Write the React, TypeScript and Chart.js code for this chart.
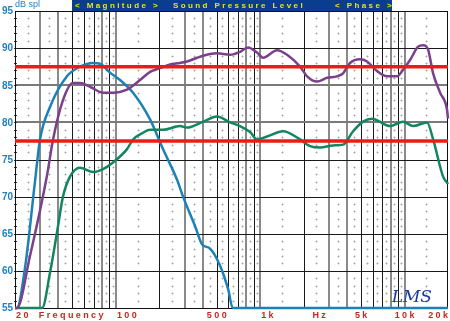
import React, { useEffect, useRef } from 'react';
import { Chart, registerables } from 'chart.js';

Chart.register(...registerables);

// ---- data (frequency in Hz, level in dB SPL) ----
const BLUE_FREQ = [20, 20.6, 23.5, 27.5, 29.8, 35, 45.8, 56.4, 69.4, 77.6, 91, 106.8, 131.5, 172.5, 212, 265, 292, 354, 395, 449, 527, 600, 645, 20000];
const BLUE_DB = [55, 55, 60.5, 72, 77.7, 82.1, 86.2, 87.5, 88.0, 87.9, 86.7, 85.7, 84, 80.4, 76.4, 72.3, 70, 66, 63.6, 63, 60.7, 57.5, 55, 55];

const PURPLE_FREQ = [20, 20.6, 25.4, 33.3, 36.7, 43, 50.5, 56.4, 66.2, 81.4, 95.5, 119.4, 147, 172.5, 202, 237, 278, 311, 365, 449, 502, 618, 725, 824, 951, 1047, 1308, 1535, 1889, 2113, 2477, 2905, 3406, 3750, 4190, 4920, 5500, 6454, 7570, 8880, 9770, 10920, 12410, 13440, 14560, 15770, 17620, 19700, 20000];
const PURPLE_DB = [55, 55, 62, 72.8, 77.7, 83, 85.3, 85.3, 84.8, 84, 84, 84.4, 85.7, 86.8, 87.3, 87.8, 88.0, 88.2, 88.7, 89.2, 89.3, 89.1, 89.5, 90.1, 89.4, 88.7, 89.7, 89.1, 87.5, 86.2, 85.5, 86, 86.2, 86.6, 88, 88.5, 88.2, 86.9, 86.2, 86.2, 87.1, 88.4, 90.2, 90.4, 89.8, 86.6, 84, 81.7, 80.5];

const GREEN_FREQ = [20, 30.8, 35, 39.1, 43, 48.1, 56.4, 69.4, 81.4, 95.5, 119.4, 131.5, 154, 172.5, 212, 278, 311, 402, 502, 618, 725, 851, 951, 1115, 1440, 1889, 2213, 2599, 3198, 3750, 4400, 5160, 5957, 7940, 9770, 11460, 14330, 15780, 18500, 20000];
const GREEN_DB = [55, 55, 59.8, 65.2, 70, 72.7, 73.9, 73.3, 73.7, 74.6, 76.4, 77.7, 78.6, 79, 79, 79.5, 79.3, 80.1, 80.8, 80, 79.5, 78.7, 77.7, 78.1, 78.8, 77.7, 76.8, 76.6, 76.9, 77, 78.8, 80.1, 80.5, 79.5, 80.1, 79.5, 80, 77.7, 72.7, 71.7];

const REF_LEVELS = [87.5, 77.5];

const Y_TICKS = [95, 90, 85, 80, 75, 70, 65, 60, 55];
const X_LABELS = ['20', 'Frequency', '100', '500', '1k', 'Hz', '5k', '10k', '20k'];
const X_LABEL_FREQ = [20, 49, 100, 500, 1000, 2560, 5000, 10000, 20000];
const X_LABEL_ALIGN = ['left', 'center', 'left', 'center', 'left', 'center', 'center', 'center', 'right'];
const HEADER_TEXT = ['< Magnitude >', 'Sound Pressure Level', '< Phase >'];
const HEADER_X = [75, 173, 335];

const FONT = '"Liberation Sans", Arial, sans-serif';

function spacedText(ctx: CanvasRenderingContext2D, text: string, x: number, y: number, spacing: number, align: string) {
  const chars = Array.from(text);
  const widths = chars.map((c) => ctx.measureText(c).width);
  const total = widths.reduce((a, b) => a + b, 0) + spacing * (chars.length - 1);
  let cx = x;
  if (align === 'center') cx = x - total / 2;
  else if (align === 'right') cx = x - total;
  ctx.textAlign = 'left';
  chars.forEach((c, i) => {
    ctx.fillText(c, cx, y);
    cx += widths[i] + spacing;
  });
}

const gridPlugin = {
  id: 'lmsGrid',
  beforeDatasetsDraw(chart: any) {
    const { ctx, chartArea: a, scales } = chart;
    const xs = scales.x;
    const ys = scales.y;
    ctx.save();
    // vertical lines
    const vx: number[] = [];
    const styleFor = (m: number) => {
      if (m === 1 || m === 3 || m === 4 || m === 8) return { c: '#8a8a8a', w: 2 };
      return { c: '#1a1a1a', w: 1 };
    };
    for (let d = 10; d <= 10000; d *= 10) {
      for (let m = 1; m <= 9; m++) {
        const f = d * m;
        if (f < 20 || f > 20000) continue;
        const px = xs.getPixelForValue(f);
        vx.push(px);
        if (f === 20 || f === 20000) continue;
        const s = styleFor(m);
        ctx.strokeStyle = s.c;
        ctx.lineWidth = s.w;
        ctx.beginPath();
        ctx.moveTo(Math.round(px) + (s.w === 1 ? 0.5 : 0), a.top);
        ctx.lineTo(Math.round(px) + (s.w === 1 ? 0.5 : 0), a.bottom);
        ctx.stroke();
      }
    }
    vx.push(xs.getPixelForValue(20000));
    vx.sort((p, q) => p - q);
    // horizontal lines
    for (let v = 60; v <= 90; v += 5) {
      const py = Math.round(ys.getPixelForValue(v));
      const gray = v === 80 || v === 85;
      ctx.strokeStyle = gray ? '#7a7a7a' : '#1a1a1a';
      ctx.lineWidth = gray ? 2 : 1;
      ctx.beginPath();
      ctx.moveTo(a.left, py + (gray ? 0 : 0.5));
      ctx.lineTo(a.right, py + (gray ? 0 : 0.5));
      ctx.stroke();
    }
    // minor "+" marks
    ctx.strokeStyle = '#a8a8a8';
    ctx.lineWidth = 1;
    for (let i = 0; i < vx.length - 1; i++) {
      const mx = Math.round((vx[i] + vx[i + 1]) / 2) + 0.5;
      if (vx[i + 1] - vx[i] < 4) continue;
      for (let v = 56; v < 95; v++) {
        if (v % 5 === 0) continue;
        const my = Math.round(ys.getPixelForValue(v)) + 0.5;
        ctx.beginPath();
        ctx.moveTo(mx - 1, my);
        ctx.lineTo(mx + 1, my);
        ctx.moveTo(mx, my - 1);
        ctx.lineTo(mx, my + 1);
        ctx.stroke();
      }
    }
    // left axis small ticks
    ctx.strokeStyle = '#333';
    for (let v = 56; v < 95; v++) {
      const my = Math.round(ys.getPixelForValue(v)) + 0.5;
      ctx.beginPath();
      ctx.moveTo(a.left - 1, my);
      ctx.lineTo(a.left + 2, my);
      ctx.stroke();
    }
    // frame
    ctx.strokeStyle = '#111';
    ctx.lineWidth = 1;
    ctx.strokeRect(a.left + 0.5, a.top + 0.5, a.right - a.left - 1, a.bottom - a.top);
    ctx.restore();
  },
  afterDraw(chart: any) {
    const { ctx, chartArea: a, scales } = chart;
    const xs = scales.x;
    const ys = scales.y;
    ctx.save();
    // header bar
    ctx.fillStyle = '#0b3d8e';
    ctx.fillRect(72, 0, 320, a.top);
    ctx.fillStyle = '#ece21a';
    ctx.font = `bold 8px ${FONT}`;
    ctx.textBaseline = 'middle';
    HEADER_TEXT.forEach((t, i) => spacedText(ctx, t, HEADER_X[i], a.top / 2 + 0.5, 2.4, 'left'));
    // dB spl
    ctx.fillStyle = '#1e7fc2';
    ctx.font = `9px ${FONT}`;
    ctx.textAlign = 'left';
    ctx.fillText('dB spl', a.left, 5);
    // y labels
    ctx.font = `bold 10px ${FONT}`;
    ctx.textAlign = 'right';
    Y_TICKS.forEach((v) => {
      ctx.fillText(String(v), a.left - 2, ys.getPixelForValue(v) + 0.5);
    });
    // x labels
    ctx.fillStyle = '#c8261e';
    ctx.font = `bold 9px ${FONT}`;
    X_LABELS.forEach((t, i) => {
      let px = xs.getPixelForValue(X_LABEL_FREQ[i]);
      if (X_LABEL_ALIGN[i] === 'left') px += 1;
      spacedText(ctx, t, px, a.bottom + 7.5, 2.4, X_LABEL_ALIGN[i]);
    });
    // logo
    ctx.fillStyle = '#1a3c9c';
    ctx.font = `italic 17px "DejaVu Serif", serif`;
    ctx.textAlign = 'right';
    ctx.textBaseline = 'alphabetic';
    ctx.fillText('LMS', a.right - 16, a.bottom - 6);
    ctx.restore();
  },
};

function toPoints(fs: number[], ds: number[]) {
  return fs.map((f, i) => ({ x: f, y: ds[i] }));
}

export default function App() {
  const ref = useRef<HTMLCanvasElement>(null);
  useEffect(() => {
    if (!ref.current) return;
    const lineDs = (data: any, color: string, width: number) => ({
      data,
      borderColor: color,
      backgroundColor: color,
      borderWidth: width,
      pointRadius: 0,
      cubicInterpolationMode: 'monotone',
      clip: 4,
      fill: false,
    });
    const chart = new Chart(ref.current, {
      type: 'line',
      data: {
        datasets: [
          ...REF_LEVELS.map((lv) => ({ ...lineDs([{ x: 20, y: lv }, { x: 20000, y: lv }], '#ee1a1a', 3.5), cubicInterpolationMode: 'default', tension: 0 })),
          lineDs(toPoints(PURPLE_FREQ, PURPLE_DB), '#7b3f8c', 2.5),
          lineDs(toPoints(GREEN_FREQ, GREEN_DB), '#13855f', 2.5),
          lineDs(toPoints(BLUE_FREQ, BLUE_DB), '#1a82b6', 2.5),
        ] as any,
      },
      options: {
        animation: false,
        responsive: false,
        events: [],
        layout: { padding: { left: 15, top: 11, right: 2, bottom: 13 } },
        plugins: { legend: { display: false }, tooltip: { enabled: false } },
        scales: {
          x: { type: 'logarithmic', min: 20, max: 20000, display: false },
          y: { type: 'linear', min: 55, max: 95, display: false },
        },
      } as any,
      plugins: [gridPlugin],
    });
    return () => chart.destroy();
  }, []);
  return (
    <div style={{ position: 'absolute', left: 0, top: 0, width: 450, height: 321, background: '#fff' }}>
      <canvas ref={ref} width={450} height={321} style={{ display: 'block', width: 450, height: 321 }} />
    </div>
  );
}
